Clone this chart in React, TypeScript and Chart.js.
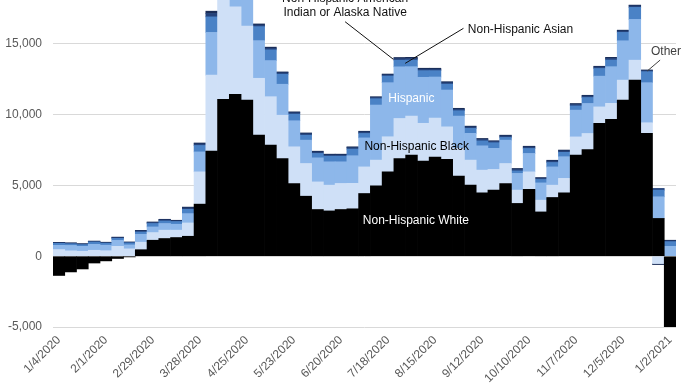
import React, { useEffect, useRef } from "react";
import { Chart, registerables } from "chart.js";

Chart.register(...registerables);

const FONT = '"Liberation Sans", Arial, sans-serif';

const WEEKS = [
  "1/4/2020", "1/11/2020", "1/18/2020", "1/25/2020", "2/1/2020", "2/8/2020", "2/15/2020",
  "2/22/2020", "2/29/2020", "3/7/2020", "3/14/2020", "3/21/2020", "3/28/2020", "4/4/2020",
  "4/11/2020", "4/18/2020", "4/25/2020", "5/2/2020", "5/9/2020", "5/16/2020", "5/23/2020",
  "5/30/2020", "6/6/2020", "6/13/2020", "6/20/2020", "6/27/2020", "7/4/2020", "7/11/2020",
  "7/18/2020", "7/25/2020", "8/1/2020", "8/8/2020", "8/15/2020", "8/22/2020", "8/29/2020",
  "9/5/2020", "9/12/2020", "9/19/2020", "9/26/2020", "10/3/2020", "10/10/2020", "10/17/2020",
  "10/24/2020", "10/31/2020", "11/7/2020", "11/14/2020", "11/21/2020", "11/28/2020", "12/5/2020",
  "12/12/2020", "12/19/2020", "12/26/2020", "1/2/2021",
];

const TICK_LABELS = [
  "1/4/2020", "2/1/2020", "2/29/2020", "3/28/2020", "4/25/2020", "5/23/2020", "6/20/2020",
  "7/18/2020", "8/15/2020", "9/12/2020", "10/10/2020", "11/7/2020", "12/5/2020", "1/2/2021",
];

const Y_TICKS = [-5000, 0, 5000, 10000, 15000];

const NH_WHITE = [
  -1360, -1110, -900, -480, -330, -160, -50,
  460, 1130, 1250, 1320, 1410,
  3680, 7420, 11080, 11430, 11030,
  8560, 7850, 6900, 5140, 4240,
  3300, 3200, 3300, 3350, 4430,
  4970, 5960, 6900, 7140, 6720,
  7000, 6840, 5660, 5020, 4480,
  4670, 5140, 3730, 4720, 3130,
  4150, 4480, 7140, 7540, 9380,
  9670, 11030, 12440, 8680, 2670, -5000,
];

const NH_BLACK = [
  470, 380, 350, 420, 390, 700, 520,
  530, 540, 590, 520, 940,
  2280, 5370, 7300, 6190, 5230,
  4010, 3420, 3060, 2590, 2310,
  1950, 1820, 1840, 1800, 1880,
  1820, 2480, 2830, 2760, 2670,
  2760, 2300, 1960, 1770, 1600,
  1460, 1410, 940, 1240, 830,
  870, 1020, 1290, 1130, 1170,
  1130, 1410, 1410, 750, -520, 0,
];

const HISPANIC = [
  300, 380, 350, 420, 390, 420, 280,
  560, 400, 470, 420, 660,
  1410, 3020, 3400, 3100, 2900,
  2660, 2550, 2190, 1840, 1650,
  1700, 1650, 1530, 1950, 2050,
  3890, 3820, 3650, 3490, 3250,
  2900, 2600, 2280, 1890, 1720,
  1490, 1650, 1180, 1300, 1220,
  1290, 1530, 1890, 2120, 2170,
  2590, 2780, 2880, 2830, 1530, 700,
];

const NH_ASIAN = [
  140, 120, 120, 160, 140, 140, 140,
  160, 240, 180, 190, 300,
  450, 1100, 1200, 1100, 1000,
  990, 760, 710, 470, 350,
  310, 400, 400, 470, 310,
  450, 470, 470, 470, 470,
  450, 420, 380, 350, 350,
  400, 190, 180, 350, 240,
  310, 310, 300, 420, 540,
  470, 590, 850, 780, 470, 330,
];

const NH_AIAN = [
  40, 40, 40, 40, 40, 50, 40,
  70, 70, 70, 50, 100,
  110, 240, 250, 240, 230,
  110, 110, 100, 100, 100,
  100, 80, 80, 100, 100,
  80, 80, 110, 110, 100,
  100, 100, 100, 100, 100,
  80, 100, 100, 100, 80,
  100, 100, 100, 100, 100,
  110, 100, 100, 70, 120, 60,
];

const OTHER = [
  30, 30, 30, 30, 30, 40, 30,
  50, 40, 50, 40, 60,
  70, 160, 170, 160, 150,
  80, 80, 60, 60, 60,
  60, 60, 60, 60, 60,
  60, 60, 80, 80, 70,
  70, 70, 70, 60, 70,
  60, 60, 70, 60, 60,
  60, 60, 70, 60, 60,
  80, 60, 60, 50, -70, 40,
];

type Annotation = {
  lines: string[];
  at: [number, number];
  align: CanvasTextAlign;
  color: string;
  leader?: [[number, number], [number, number]];
  lineColor?: string;
};

// positions in data coordinates (category index, value)
const ANNOTATIONS: Annotation[] = [
  {
    lines: ["Non-Hispanic American", "Indian or Alaska Native"],
    at: [24.35, 17180],
    align: "center",
    color: "#111111",
    leader: [[24.35, 16565], [28.46, 13907]],
    lineColor: "#111111",
  },
  {
    lines: ["Non-Hispanic Asian"],
    at: [34.79, 15978],
    align: "left",
    color: "#111111",
    leader: [[34.42, 16099], [29.46, 13624]],
    lineColor: "#111111",
  },
  { lines: ["Hispanic"], at: [28.03, 11100], align: "left", color: "#ffffff" },
  { lines: ["Non-Hispanic Black"], at: [25.99, 7727], align: "left", color: "#000000" },
  { lines: ["Non-Hispanic White"], at: [25.86, 2475], align: "left", color: "#ffffff" },
  {
    lines: ["Other"],
    at: [50.37, 14444],
    align: "left",
    color: "#404040",
    leader: [[51.15, 13857], [50.05, 13080]],
    lineColor: "#404040",
  },
];

const annotationPlugin = {
  id: "textAnnotations",
  afterDatasetsDraw(chart: any) {
    const { ctx, scales } = chart;
    const xs = scales.x;
    const ys = scales.y;
    ctx.save();
    ctx.font = `12px ${FONT}`;
    ctx.textBaseline = "middle";
    for (const a of ANNOTATIONS) {
      if (a.leader) {
        ctx.beginPath();
        ctx.strokeStyle = a.lineColor || "#000";
        ctx.lineWidth = 1;
        ctx.moveTo(xs.getPixelForValue(a.leader[0][0]), ys.getPixelForValue(a.leader[0][1]));
        ctx.lineTo(xs.getPixelForValue(a.leader[1][0]), ys.getPixelForValue(a.leader[1][1]));
        ctx.stroke();
      }
      ctx.fillStyle = a.color;
      ctx.textAlign = a.align;
      const px = xs.getPixelForValue(a.at[0]);
      const py = ys.getPixelForValue(a.at[1]);
      const n = a.lines.length;
      a.lines.forEach((t, i) => {
        ctx.fillText(t, px, py + (i - (n - 1)) * 14);
      });
    }
    ctx.restore();
  },
};

export default function App() {
  const ref = useRef<HTMLCanvasElement>(null);

  useEffect(() => {
    const canvas = ref.current;
    if (!canvas) return;
    const chart = new Chart(canvas, {
      type: "bar",
      data: {
        labels: WEEKS,
        datasets: [
          { label: "Non-Hispanic White", data: NH_WHITE, backgroundColor: "#000000" },
          { label: "Non-Hispanic Black", data: NH_BLACK, backgroundColor: "#cfe0f7" },
          { label: "Hispanic", data: HISPANIC, backgroundColor: "#8db7ea" },
          { label: "Non-Hispanic Asian", data: NH_ASIAN, backgroundColor: "#4a82c6" },
          { label: "Non-Hispanic American Indian or Alaska Native", data: NH_AIAN, backgroundColor: "#24427a" },
          { label: "Other", data: OTHER, backgroundColor: "#1a2d57" },
        ],
      },
      options: {
        animation: false,
        responsive: false,
        devicePixelRatio: 1,
        layout: { padding: { left: 0, right: 14, top: 0, bottom: 0 } },
        datasets: {
          bar: { categoryPercentage: 1, barPercentage: 1, borderWidth: 0 },
        },
        plugins: {
          legend: { display: false },
          tooltip: { enabled: false },
        },
        scales: {
          x: {
            stacked: true,
            grid: { display: false, drawTicks: false },
            border: { display: false },
            ticks: {
              autoSkip: false,
              minRotation: 45,
              maxRotation: 45,
              padding: 6,
              color: "#595959",
              font: { family: FONT, size: 12 },
              callback: (_v: any, i: number) => (TICK_LABELS.includes(WEEKS[i]) ? WEEKS[i] : ""),
            },
            afterFit: (s: any) => {
              s.height = 62;
              s.paddingLeft = 0;
              s.paddingRight = 0;
            },
          },
          y: {
            stacked: true,
            min: -5000,
            max: 18100,
            grid: { color: "#d9d9d9", drawTicks: false, lineWidth: 1 },
            border: { display: false },
            ticks: {
              stepSize: 5000,
              padding: 11,
              color: "#595959",
              font: { family: FONT, size: 12 },
              callback: (v: any) => Number(v).toLocaleString("en-US"),
            },
            afterBuildTicks: (s: any) => {
              s.ticks = Y_TICKS.map((value) => ({ value }));
            },
            afterFit: (s: any) => {
              s.width = 53;
              s.paddingTop = 0;
              s.paddingBottom = 0;
            },
          },
        },
      },
      plugins: [annotationPlugin],
    } as any);
    return () => chart.destroy();
  }, []);

  return (
    <div style={{ position: "fixed", left: 0, top: 0, width: 690, height: 389, background: "#ffffff" }}>
      <canvas ref={ref} width={690} height={389} style={{ display: "block", width: 690, height: 389 }} />
    </div>
  );
}
